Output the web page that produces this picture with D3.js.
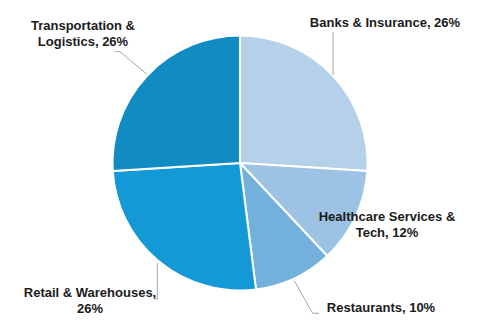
<!DOCTYPE html>
<html><head><meta charset="utf-8">
<script src="https://cdn.jsdelivr.net/npm/d3@7"></script>
<style>body{margin:0;background:#fff}svg{display:block}</style>
</head><body>
<script>
const categories = ["Banks & Insurance","Healthcare Services & Tech","Restaurants","Retail & Warehouses","Transportation & Logistics"];
const values = [26, 12, 10, 26, 26];
const colors = ["#b4d1e9","#9dc3e4","#74b0dc","#139ad6","#118cc2"];
const labelLines = [["Banks & Insurance, 26%"],["Healthcare Services &","Tech, 12%"],["Restaurants, 10%"],["Retail & Warehouses,","26%"],["Transportation &","Logistics, 26%"]];

const W=480,H=327,cx=240,cy=163,R=127.5;
const svg=d3.select("body").append("svg").attr("width",W).attr("height",H);
const g=svg.append("g").attr("transform",`translate(${cx},${cy})`);
const pie=d3.pie().sort(null).value(d=>d);
const arcs=pie(values);
const arc=d3.arc().innerRadius(0).outerRadius(R);
g.selectAll("path").data(arcs).join("path")
 .attr("d",arc).attr("fill",(d,i)=>colors[i])
 .attr("stroke","#fff").attr("stroke-width",2).attr("stroke-linejoin","round");

// label positions (relative to centre) and leader lines
const labelPos=[[145,-136],[147,58],[141,149],[-150,134],[-157,-133]];
const leaders=[
 [[93,-131],[93,-88]],
 null,
 [[54.3,117.7],[72.7,150.3],[79,150.3]],
 [[-82.7,100],[-82.7,136],[-85,136]],
 [[-125,-111.3],[-120,-111.3],[-93.3,-89]]
];
const line=d3.line();
leaders.forEach(l=>{ if(l) g.append("path").attr("d",line(l)).attr("fill","none").attr("stroke","#a6a6a6").attr("stroke-width",1);});
labelPos.forEach((p,i)=>{
 const t=g.append("text").attr("x",p[0]).attr("y",p[1]).attr("text-anchor","middle")
  .attr("font-family","Liberation Sans, Arial, sans-serif").attr("font-weight","bold")
  .attr("font-size","13px").attr("fill","#1a1a1a");
 labelLines[i].forEach((s,j)=>t.append("tspan").attr("x",p[0]).attr("dy",j?15.5:0).text(s));
});
</script>
</body></html>
